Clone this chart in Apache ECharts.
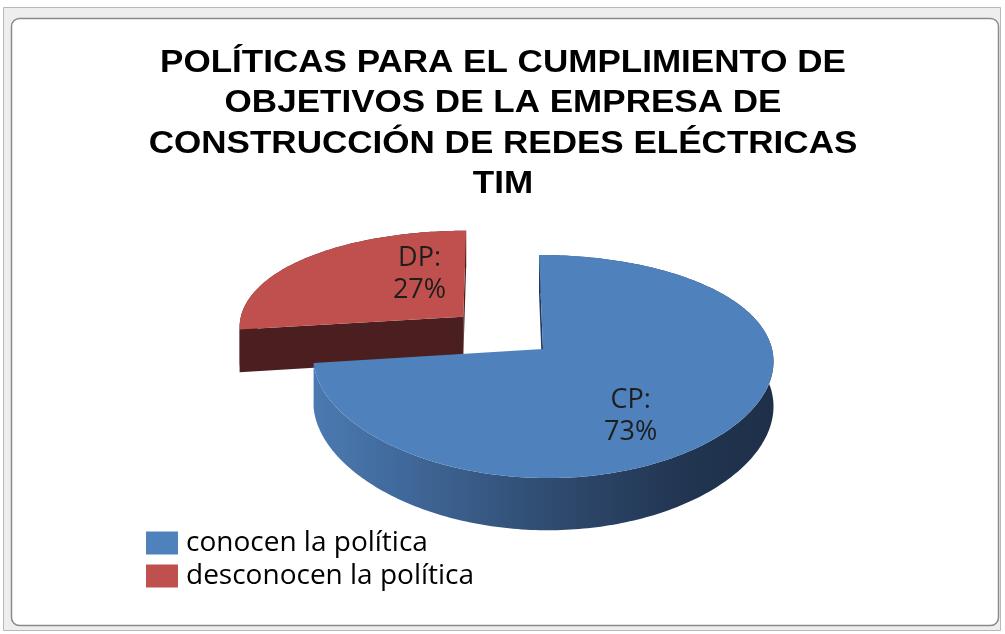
<!DOCTYPE html>
<html><head><meta charset="utf-8">
<script src="https://cdn.jsdelivr.net/npm/echarts@6/dist/echarts.min.js"></script>
<style>html,body{margin:0;padding:0;background:#fff}#c{width:1005px;height:634px}</style>
</head><body><div id="c"></div>
<script>
// ---- data ----
const titleLines = ['POLÍTICAS PARA EL CUMPLIMIENTO DE', 'OBJETIVOS DE LA EMPRESA DE', 'CONSTRUCCIÓN DE REDES ELÉCTRICAS', 'TIM'];
const categories = ['conocen la política', 'desconocen la política'];
const shortNames = ['CP', 'DP'];
const values = [73, 27];

// ---- styling / layout ----
const colors = ['#4f81bd', '#c0504d'];
const P = { cx: 543, cy: 349, a: 229, b: 108.8, p: 0.157, px: 0.095, c0: -0.2, h: 44, startAngle: 90 };
const explode = [0, 0.47];
const labelAnchor = [{ ang: -58, r: 0.664 }, { ang: 115, r: 0.5 }];
const wallFill = [
  new echarts.graphic.LinearGradient(0, 0, 1, 0, [
    { offset: 0, color: '#4b7ab1' }, { offset: 0.2, color: '#40689a' },
    { offset: 0.52, color: '#2f4b6f' }, { offset: 0.82, color: '#213450' }, { offset: 1, color: '#1e3049' }]),
  '#4b1e1e'
];
const faceFill = ['#22385a', '#4b1f1f'];

function proj(u, v, z) {
  const w = 1 + P.p * v, wx = 1 + P.px * v;
  return [P.cx + P.a * P.c0 + P.a * (u - P.c0) / wx, P.cy - P.b * v / w + P.h * z / w];
}
function area(pts) {
  let s = 0;
  for (let i = 0; i < pts.length; i++) { const q = pts[(i + 1) % pts.length]; s += pts[i][0] * q[1] - q[0] * pts[i][1]; }
  return s;
}

function makeRender(i) {
  return function (params, api) {
    const total = values.reduce((s, v) => s + v, 0);
    let cum = 0; for (let k = 0; k < i; k++) cum += values[k];
    const v = api.value(0);
    const sA = P.startAngle - 360 * cum / total;
    const eA = sA - 360 * v / total;
    const lo = eA * Math.PI / 180, hi = sA * Math.PI / 180, mid = (lo + hi) / 2;
    const ex = explode[i] * Math.cos(mid), ey = explode[i] * Math.sin(mid);
    const n = Math.max(8, Math.ceil((hi - lo) * 180 / Math.PI));
    const topArc = [], botArc = [];
    for (let k = 0; k <= n; k++) {
      const t = lo + (hi - lo) * k / n;
      topArc.push(proj(ex + Math.cos(t), ey + Math.sin(t), 0));
      botArc.push(proj(ex + Math.cos(t), ey + Math.sin(t), 1));
    }
    const children = [];
    children.push({ type: 'polygon', shape: { points: topArc.concat(botArc.slice().reverse()) }, style: { fill: wallFill[i] } });
    [[lo, 1], [hi, -1]].forEach(([ang, sign]) => {
      const q = [proj(ex, ey, 0), proj(ex + Math.cos(ang), ey + Math.sin(ang), 0),
                 proj(ex + Math.cos(ang), ey + Math.sin(ang), 1), proj(ex, ey, 1)];
      if (area(q) * sign > 0) children.push({ type: 'polygon', shape: { points: q }, style: { fill: faceFill[i] } });
    });
    children.push({ type: 'polygon', shape: { points: [proj(ex, ey, 0)].concat(topArc) }, style: { fill: api.visual('color') } });
    const la = labelAnchor[i].ang * Math.PI / 180, lr = labelAnchor[i].r;
    const lp = proj(ex + lr * Math.cos(la), ey + lr * Math.sin(la), 0);
    children.push({ type: 'text', style: {
      text: shortNames[i] + ':\n' + Math.round(v / total * 100) + '%', x: lp[0], y: lp[1],
      align: 'center', verticalAlign: 'middle', textAlign: 'center', textVerticalAlign: 'middle',
      font: '27px "Open Sans"', lineHeight: 32, fill: '#1e1e1e' } });
    return { type: 'group', children: children };
  };
}
function makeSeries(i) {
  return { type: 'custom', name: categories[i], coordinateSystem: 'none', itemStyle: { color: colors[i] },
           data: [[values[i]]], renderItem: makeRender(i), silent: true, animation: false };
}

const chart = echarts.init(document.getElementById('c'), null, { renderer: 'canvas' });
chart.setOption({
  animation: false,
  legend: {
    data: categories, orient: 'vertical', left: 146, top: 529, icon: 'rect',
    itemWidth: 32, itemHeight: 23, itemGap: 5, padding: 0,
    textStyle: { fontFamily: 'Open Sans', fontSize: 28, lineHeight: 27, color: '#000', padding: [0, 0, 0, 3] }
  },
  graphic: [
    { type: 'rect', z: -10, shape: { x: 3.5, y: 7.5, width: 997, height: 623 }, style: { fill: '#eeeeee', stroke: '#b8b8b8', lineWidth: 1 } },
    { type: 'rect', z: -9, shape: { x: 11.5, y: 18.5, width: 987, height: 607, r: 8 }, style: { fill: '#ffffff', stroke: '#8a8a8a', lineWidth: 1.5 } },
    { type: 'text', z: 100, x: 503, y: 43, scaleX: 1.095, style: {
      text: titleLines.join('\n'), font: 'bold 32px "Liberation Sans"', lineHeight: 40.3,
      align: 'center', verticalAlign: 'top', textAlign: 'center', textVerticalAlign: 'top', fill: '#000' } }
  ],
  series: [makeSeries(1), makeSeries(0)]
});
</script></body></html>
